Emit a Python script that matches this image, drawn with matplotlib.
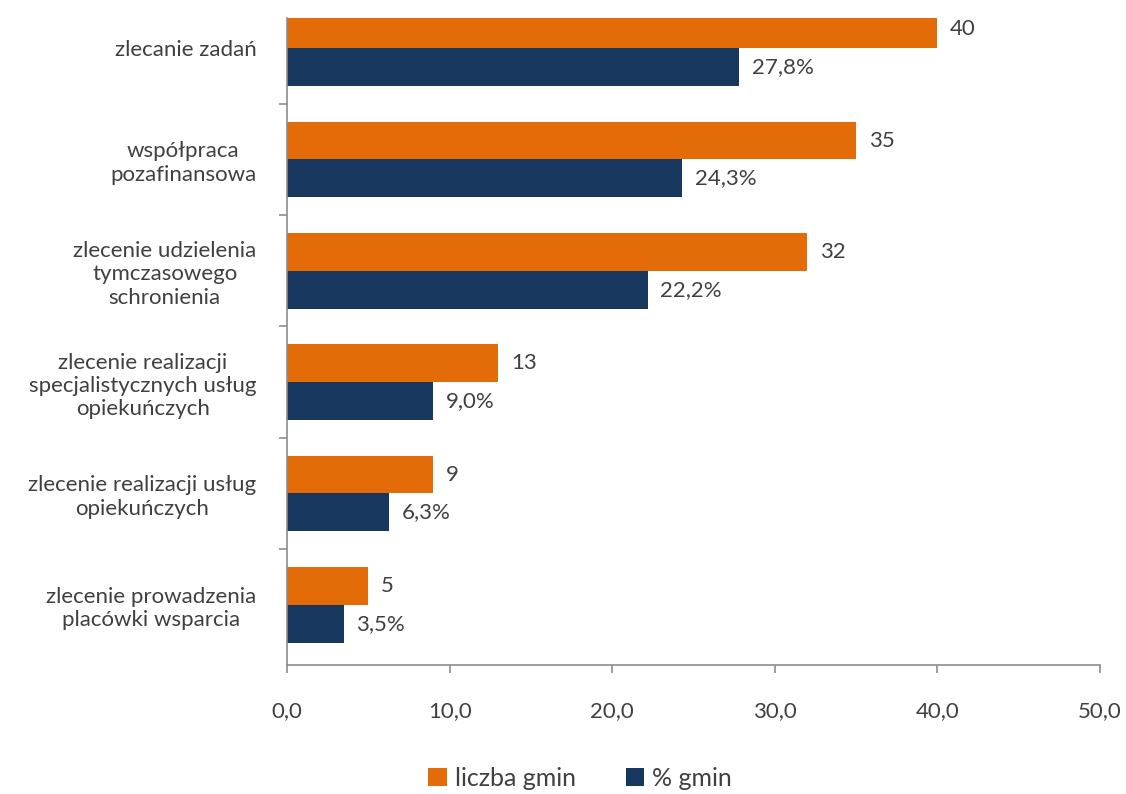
import numpy as np
import matplotlib
matplotlib.use("Agg")
import matplotlib.pyplot as plt
from matplotlib.ticker import FixedLocator, FuncFormatter

# dane
categories = [
    "zlecanie zadań",
    "współpraca\npozafinansowa",
    "zlecenie udzielenia\ntymczasowego\nschronienia",
    "zlecenie realizacji\nspecjalistycznych usług\nopiekuńczych",
    "zlecenie realizacji usług\nopiekuńczych",
    "zlecenie prowadzenia\nplacówki wsparcia",
]
liczba_gmin = [40, 35, 32, 13, 9, 5]
proc_gmin = [27.8, 24.3, 22.2, 9.0, 6.3, 3.5]
x_ticks = [0, 10, 20, 30, 40, 50]

orange = "#E36C09"
navy = "#17375E"
grey = "#8C8C8C"
txt = "#404040"
fs = 16

plt.rcParams["font.family"] = ["Lato", "DejaVu Sans"]

fig = plt.figure(figsize=(11.26, 7.94), dpi=100)
ax = fig.add_axes([0.2549, 0.1625, 0.7220, 0.8148])

y = np.arange(len(categories))
h = 0.34
b1 = ax.barh(y - h / 2, liczba_gmin, height=h, color=orange, label="liczba gmin")
b2 = ax.barh(y + h / 2, proc_gmin, height=h, color=navy, label="% gmin")

for rect, v in zip(b1, liczba_gmin):
    ax.annotate(f"{v}", (rect.get_width(), rect.get_y() + rect.get_height() / 2),
                xytext=(9, 0), textcoords="offset points", va="center", ha="left",
                fontsize=fs, color=txt)
for rect, v in zip(b2, proc_gmin):
    ax.annotate(f"{v:.1f}%".replace(".", ","), (rect.get_width(), rect.get_y() + rect.get_height() / 2),
                xytext=(9, 0), textcoords="offset points", va="center", ha="left",
                fontsize=fs, color=txt)

ax.set_xlim(0, 50)
ax.set_ylim(5.54, -0.27)
ax.set_xticks(x_ticks)
ax.xaxis.set_major_formatter(FuncFormatter(lambda v, p: f"{v:.1f}".replace(".", ",")))
ax.tick_params(axis="x", length=6, width=1.2, color=grey, pad=20, labelsize=fs, labelcolor=txt)

ax.set_yticks(y)
ax.set_yticklabels(categories, multialignment="center")
ax.tick_params(axis="y", which="major", length=0, pad=22, labelsize=fs, labelcolor=txt)
ax.yaxis.set_minor_locator(FixedLocator(np.arange(0.5, len(categories) - 1, 1.0)))
ax.tick_params(axis="y", which="minor", length=6, width=1.2, color=grey)

for s in ["top", "right"]:
    ax.spines[s].set_visible(False)
for s in ["left", "bottom"]:
    ax.spines[s].set_color(grey)
    ax.spines[s].set_linewidth(1.2)

leg = fig.legend(handles=[b1, b2], loc="center", bbox_to_anchor=(0.515, 0.02),
                 ncol=2, frameon=False, fontsize=18, handlelength=0.75, handleheight=0.75,
                 handletextpad=0.3, columnspacing=2.0, labelcolor=txt)

fig.savefig("out.png", dpi=100)
